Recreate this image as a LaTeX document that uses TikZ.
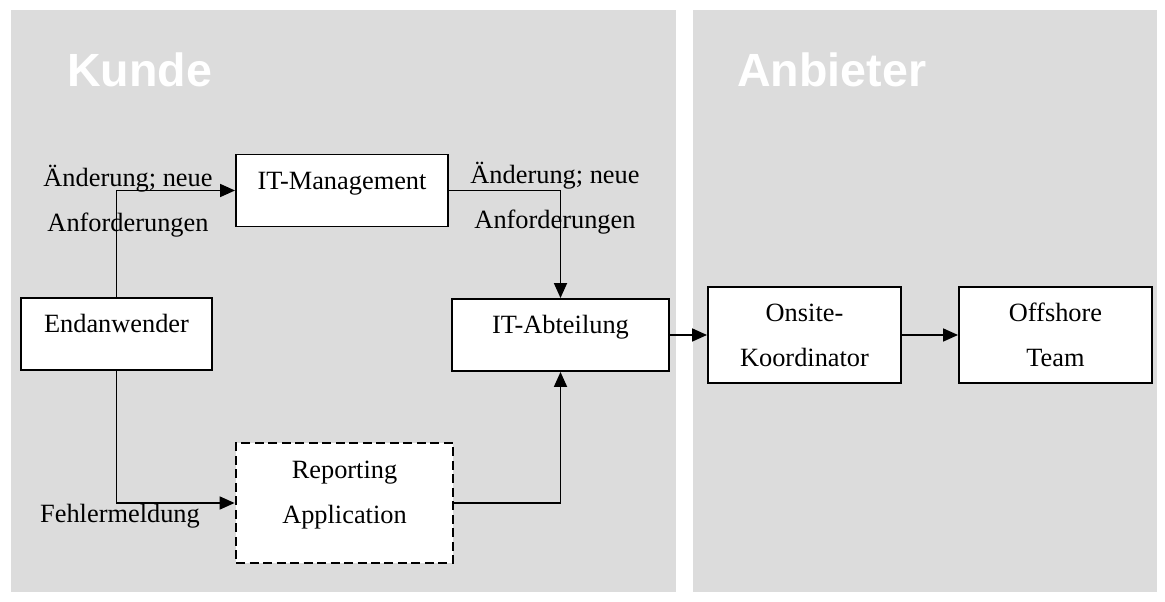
\documentclass[tikz,border=0pt]{standalone}
\usepackage{fontspec}
\setmainfont{Liberation Serif}
\newfontfamily\headfont{Liberation Sans}
\usetikzlibrary{arrows.meta}
\definecolor{panelgray}{RGB}{220,220,220}

\begin{document}
\begin{tikzpicture}[
  box/.style={draw, fill=white, line width=1.1pt, inner sep=0pt, align=center,
    font=\fontsize{15}{26}\selectfont, text height=0.7cm, text depth=0.74cm},
  flow/.style={line width=1pt, -{Triangle[length=0.3cm,width=0.26cm]}},
  lbl/.style={align=center, font=\fontsize{15}{26}\selectfont, inner sep=0pt, anchor=base},
  head/.style={white, font=\headfont\bfseries\fontsize{26.5}{30}\selectfont, inner sep=0pt, anchor=base west}
]
  \useasboundingbox (0,0) rectangle (23.3,12.04);
  \fill[panelgray] (0.22,0.2) rectangle (13.52,11.84);
  \fill[panelgray] (13.86,0.2) rectangle (23.14,11.84);

\node[head] (kunde) at (1.34,10.3) {Kunde};
\node[head] (anbieter) at (14.74,10.3) {Anbieter};

  \node[box, minimum width=3.82cm] (endanwender) at (2.33,5.36) {Endanwender};
  \node[box, minimum width=4.24cm] (itmanagement) at (6.84,8.23) {IT-Management};
  \node[box, minimum width=4.34cm] (itabteilung) at (11.21,5.34) {IT-Abteilung};
  \node[box, minimum width=4.34cm, line width=1.6pt, dash pattern=on 0.18cm off 0.09cm,
    text height=1.62cm, text depth=0.78cm] (reporting) at (6.89,1.98) {Reporting\\Application};
  \node[box, minimum width=3.86cm, text height=1.6cm, text depth=0.32cm] (onsite) at (16.09,5.34) {Onsite-\\Koordinator};
  \node[box, minimum width=3.86cm, text height=1.6cm, text depth=0.32cm] (offshore) at (21.11,5.34) {Offshore\\Team};

\node[lbl] (lblleft) at (2.56,7.4) {Änderung; neue\\Anforderungen};
\node[lbl] (lblright) at (11.1,7.46) {Änderung; neue\\Anforderungen};
\node[lbl] (lblfehler) at (2.4,1.58) {Fehlermeldung};

  \draw[flow] (endanwender.north) |- (itmanagement.west);
  \draw[flow] (itmanagement.east) -| (itabteilung.north);
  \draw[flow] (endanwender.south) |- (reporting.west);
  \draw[flow] (reporting.east) -| (itabteilung.south);
  \draw[flow] (itabteilung.east) -- (onsite.west);
  \draw[flow] (onsite.east) -- (offshore.west);
\end{tikzpicture}
\end{document}
